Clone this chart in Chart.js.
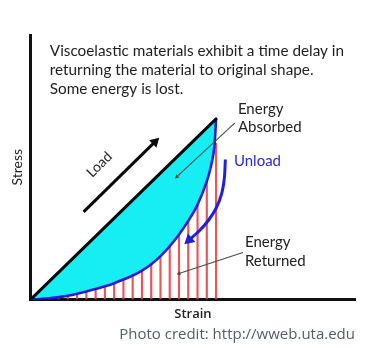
<!DOCTYPE html>
<html>
<head>
<meta charset="utf-8">
<script src="https://cdn.jsdelivr.net/npm/chart.js@4.4.1/dist/chart.umd.min.js"></script>
<style>
  html, body { margin: 0; padding: 0; background: #fff; }
</style>
</head>
<body>
<canvas id="myChart" width="388" height="348"></canvas>
<script>
// strain steps where the returned-energy hatch lines stand
const hatchStrain = [1, 2, 3, 4, 5, 6, 7, 8, 9, 10, 11, 12, 13, 14, 15, 16, 17, 18, 19, 20];
const hatchStress = [0.05, 0.12, 0.25, 0.4, 0.62, 0.88, 1.15, 1.45, 1.8, 2.2, 2.65, 3.2, 3.9, 4.8, 5.9, 7.2, 8.7, 10.5, 13.1, 17.3];

// loading path: straight up to the peak
const loadStrain = [0, 20];
const loadStress = [0, 20];

// unloading path, origin to peak
const unloadStrain = [0, 1, 2, 3, 4, 5, 6, 7, 8, 9, 10, 11, 12, 13, 14, 15, 16, 17, 18, 19, 19.5, 19.85, 20];
const unloadStress = [0, 0.05, 0.12, 0.25, 0.4, 0.62, 0.88, 1.15, 1.45, 1.8, 2.2, 2.65, 3.2, 3.9, 4.8, 5.9, 7.2, 8.7, 10.5, 13.1, 15.0, 17.3, 20];

// arrows
const loadArrowStrain = [5.7, 13.4];
const loadArrowStress = [9.7, 17.45];
const unloadArrowStrain = [21.0, 20.9, 20.6, 20.0, 19.2, 18.2, 17.1];
const unloadArrowStress = [15.5, 13.5, 11.7, 10.1, 8.8, 7.6, 6.6];
const absorbedPtrStrain = [22.04, 15.77];
const absorbedPtrStress = [19.57, 13.6];
const returnedPtrStrain = [22.9, 16.0];
const returnedPtrStress = [5.2, 2.87];

const pts = (xs, ys) => xs.map((x, i) => ({ x, y: ys[i] }));

// closed loop load -> peak -> back down the unload curve
const loop = pts(loadStrain, loadStress).concat(pts(unloadStrain, unloadStress).reverse());

// rotate a triangle so it points along the last segment
function headRotation(ctx) {
  const d = ctx.dataset.data, i = ctx.dataIndex;
  if (i === 0) return 0;
  const sx = ctx.chart.scales.x, sy = ctx.chart.scales.y;
  const dx = sx.getPixelForValue(d[i].x) - sx.getPixelForValue(d[i - 1].x);
  const dy = sy.getPixelForValue(d[i].y) - sy.getPixelForValue(d[i - 1].y);
  return Math.atan2(dy, dx) * 180 / Math.PI + 90;
}

function arrow(data, color, width, head, extra) {
  return Object.assign({
    type: 'line',
    data,
    borderColor: color,
    backgroundColor: color,
    borderWidth: width,
    pointStyle: 'triangle',
    pointRadius: ctx => ctx.dataIndex === data.length - 1 ? head : 0,
    pointBorderWidth: 0,
    pointRotation: headRotation,
    fill: false,
    order: 0
  }, extra || {});
}

const notes = [
  { text: ['Viscoelastic materials exhibit a time delay in', 'returning the material to original shape.', 'Some energy is lost.'],
    x: 2.05, y: 26.98, gap: 19, font: '15.3px Lato', color: '#1e1e1e' },
  { text: ['Energy', 'Absorbed'], x: 22.36, y: 20.57, gap: 18.5, font: '15px Lato', color: '#222' },
  { text: ['Unload'], x: 21.93, y: 14.76, gap: 0, font: '15px Lato', color: '#2a2ad2' },
  { text: ['Energy', 'Returned'], x: 23.12, y: 5.86, gap: 19.5, font: '15px Lato', color: '#222' },
  { text: ['Load'], x: 7.4, y: 14.93, gap: 0, font: '14px Lato', color: '#222', angle: -45, center: true }
];

const notesPlugin = {
  id: 'notes',
  afterDatasetsDraw(chart) {
    const { ctx } = chart;
    const sx = chart.scales.x, sy = chart.scales.y;
    notes.forEach(n => {
      ctx.save();
      ctx.font = n.font;
      ctx.fillStyle = n.color;
      ctx.translate(sx.getPixelForValue(n.x), sy.getPixelForValue(n.y));
      if (n.angle) ctx.rotate(n.angle * Math.PI / 180);
      ctx.textAlign = n.center ? 'center' : 'left';
      ctx.textBaseline = n.center ? 'middle' : 'alphabetic';
      n.text.forEach((t, i) => ctx.fillText(t, 0, i * n.gap));
      ctx.restore();
    });
  }
};

new Chart(document.getElementById('myChart'), {
  type: 'line',
  data: {
    datasets: [
      {
        type: 'bar',
        data: pts(hatchStrain, hatchStress),
        backgroundColor: 'rgba(228,56,56,0.85)',
        barThickness: 1.5,
        order: 5
      },
      {
        data: loop,
        fill: 'shape',
        backgroundColor: '#17eef3',
        borderWidth: 0,
        pointRadius: 0,
        order: 4
      },
      {
        data: pts(unloadStrain, unloadStress),
        borderColor: '#1b1bd4',
        borderWidth: 2.6,
        cubicInterpolationMode: 'monotone',
        pointRadius: 0,
        fill: false,
        order: 3
      },
      {
        data: pts(loadStrain, loadStress),
        borderColor: '#0a0a0a',
        borderWidth: 3,
        borderCapStyle: 'round',
        pointRadius: 0,
        fill: false,
        order: 2
      },
      arrow(pts(loadArrowStrain, loadArrowStress), '#0a0a0a', 3, 6),
      arrow(pts(unloadArrowStrain, unloadArrowStress), '#1f1fe0', 3, 6.5, { tension: 0.3 }),
      arrow(pts(absorbedPtrStrain, absorbedPtrStress), '#4a4a4a', 1.1, 2.5),
      arrow(pts(returnedPtrStrain, returnedPtrStress), '#4a4a4a', 1.1, 2.5)
    ]
  },
  options: {
    responsive: false,
    animation: false,
    events: [],
    layout: { padding: { left: 9, right: 33, top: 35, bottom: 4 } },
    plugins: {
      legend: { display: false },
      tooltip: { enabled: false },
      title: {
        display: true,
        position: 'bottom',
        align: 'end',
        text: 'Photo credit: http://wweb.uta.edu',
        color: '#555c66',
        font: { family: 'Open Sans', size: 15, weight: 'normal' },
        padding: { top: 4.2, bottom: 0 }
      }
    },
    scales: {
      x: {
        type: 'linear',
        min: 0,
        max: 35,
        offset: false,
        grid: { display: false, drawTicks: false },
        ticks: { display: false },
        border: { display: true, width: 3, color: '#111' },
        title: {
          display: true,
          text: 'Strain',
          color: '#222',
          font: { family: 'Open Sans', size: 13, weight: '600' },
          padding: { top: 6.8, bottom: 0 }
        }
      },
      y: {
        type: 'linear',
        min: 0,
        max: 29.3,
        grid: { display: false, drawTicks: false },
        ticks: { display: false },
        border: { display: true, width: 3, color: '#111' },
        title: {
          display: true,
          text: 'Stress',
          color: '#222',
          font: { family: 'Lato', size: 14 },
          padding: { top: 0, bottom: 5 }
        }
      }
    }
  },
  plugins: [notesPlugin]
});
</script>
</body>
</html>
